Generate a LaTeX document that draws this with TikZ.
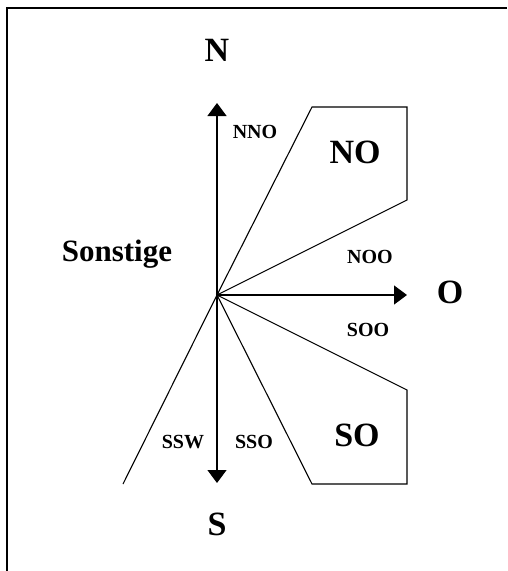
\documentclass[tikz,border=0pt]{standalone}
\usepackage{fontspec}
\setmainfont{Liberation Serif}
\usetikzlibrary{arrows.meta}

\begin{document}
\begin{tikzpicture}[
  x=1pt, y=-1pt,
  >={Triangle[length=13pt, width=19pt]},
  axis/.style={->, line width=1.3pt},
  sector/.style={line width=1.1pt, line join=miter},
  dir/.style={font=\fontsize{34}{34}\selectfont\bfseries, inner sep=0pt},
  sub/.style={font=\fontsize{20}{20}\selectfont\bfseries, inner sep=0pt},
]
\useasboundingbox (0,0) rectangle (507,571);

% frame
\draw[line width=2pt] (7,571) -- (7,8) -- (507,8);

% centre and ends
\coordinate (c) at (217,295);
\coordinate (nTip) at (217,103);
\coordinate (oTip) at (407,295);
\coordinate (sTip) at (217,483);
\coordinate (sw) at (123,484);

\coordinate (no1) at (312,107);
\coordinate (no2) at (407,107);
\coordinate (no3) at (407,200);
\coordinate (so1) at (407,390);
\coordinate (so2) at (407,484);
\coordinate (so3) at (312,484);

% sectors
\draw[sector] (c) -- (no1) -- (no2) -- (no3) -- cycle;
\draw[sector] (c) -- (so1) -- (so2) -- (so3) -- cycle;
\draw[sector] (c) -- (sw);

% axes
\draw[axis] (c) -- (nTip);
\draw[axis] (c) -- (oTip);
\draw[axis] (c) -- (sTip);

% labels
\node[dir] (lblN) at (217,50) {N};
\node[dir] (lblO) at (450,292) {O};
\node[dir] (lblS) at (217,524) {S};
\node[dir] (lblNO) at (355,152) {NO};
\node[dir] (lblSO) at (357,435) {SO};
\node[font=\fontsize{31}{31}\selectfont\bfseries, inner sep=0pt, anchor=base] (lblSonst) at (117,261) {Sonstige};

\node[sub] (lblNNO) at (255,132) {NNO};
\node[sub] (lblNOO) at (370,257) {NOO};
\node[sub] (lblSOO) at (368,330) {SOO};
\node[sub] (lblSSW) at (183,442) {SSW};
\node[sub] (lblSSO) at (254,442) {SSO};

\end{tikzpicture}
\end{document}
